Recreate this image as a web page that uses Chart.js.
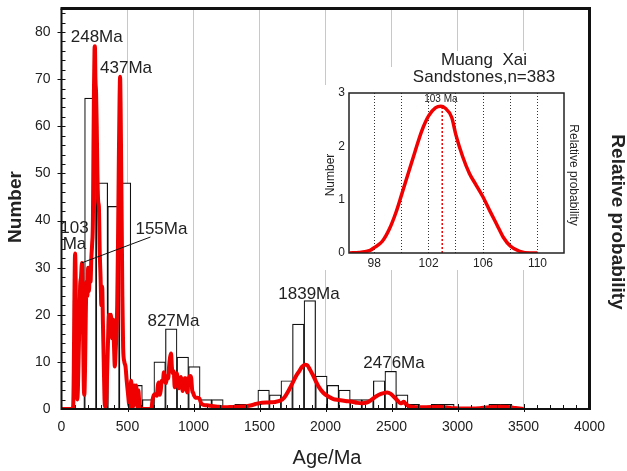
<!DOCTYPE html>
<html>
<head>
<meta charset="utf-8">
<script src="https://cdn.jsdelivr.net/npm/chart.js@4.4.0/dist/chart.umd.min.js"></script>
<style>
  html, body { margin: 0; padding: 0; background: #fff; }
  #quadro { position: relative; width: 627px; height: 471px; }
  #grafico-idades { position: absolute; left: 0; top: 0; }
  #grafico-inset { position: absolute; left: 320px; top: 85px; background: #fff; }
</style>
</head>
<body>
<div id="quadro">
  <canvas id="grafico-idades" width="627" height="471"></canvas>
  <canvas id="grafico-inset" width="265" height="185"></canvas>
</div>
<script>
// histograma: inicio de cada classe (Ma) e numero de graos
const larguraClasse = 87.5;
const inicioClasse = [87.5, 175, 262.5, 350, 437.5, 525, 612.5, 700, 787.5, 875, 962.5,
  1050, 1137.5, 1225, 1312.5, 1400, 1487.5, 1575, 1662.5, 1750, 1837.5, 1925, 2012.5,
  2100, 2187.5, 2275, 2362.5, 2450, 2537.5, 2625, 2712.5, 2800, 2887.5, 2975, 3062.5,
  3150, 3237.5, 3325];
const contagem = [23, 66, 48, 43, 48, 5, 2, 10, 17, 11, 9,
  2, 2, 0, 1, 0, 4, 3, 6, 18, 23, 7, 5,
  4, 2, 2, 6, 8, 3, 1, 0, 1, 1, 0, 0,
  0, 1, 1];

// curva de probabilidade relativa
const idadeCurva = [0, 84, 89, 93, 98, 103, 107, 111, 115, 119, 124, 129, 135, 141, 148, 155, 160, 164, 168,
  173, 178, 184, 190, 196, 202, 208, 214, 220, 226, 232, 238, 242, 246, 250, 253, 257, 262, 267, 272, 278, 283,
  290, 296, 302, 308, 314, 320, 326, 332, 338, 344, 352, 360, 368, 375, 382, 390, 397, 404, 410, 416, 422, 428,
  434, 440, 444, 448, 452, 456, 461, 467, 476, 485, 494, 503, 512, 520, 528, 536, 543, 551, 559, 566, 574, 582,
  590, 600, 615, 680, 690, 700, 712, 722, 730, 737, 745, 752, 760, 768, 776, 784, 792, 800, 808, 815, 823, 830,
  836, 843, 850, 858, 866, 875, 882, 889, 896, 904, 911, 918, 926, 933, 940, 946, 952, 960, 968, 975, 983, 990,
  998, 1005, 1015, 1030, 1045, 1058, 1075, 1100, 1130, 1180, 1240, 1300, 1343, 1400, 1440, 1470, 1520, 1571,
  1620, 1659, 1690, 1722, 1750, 1773, 1800, 1823, 1845, 1861, 1880, 1899, 1925, 1949, 1985, 2025, 2060, 2101,
  2150, 2202, 2240, 2278, 2316, 2350, 2379, 2420, 2467, 2495, 2518, 2545, 2568, 2580, 2593, 2610, 2631, 2680,
  2732, 2800, 2858, 2920, 2985, 3050, 3111, 3180, 3260, 3320, 3380, 3440, 3500];
const probCurva = [0, 0, 1, 8, 24, 33, 28, 14, 5, 2, 4, 10, 18, 26, 28, 31, 26, 16, 6,
  3, 8, 20, 27, 24, 30, 25, 29, 27, 32, 35, 40, 55, 68, 76, 77, 70, 67, 60, 50, 44, 43,
  33, 28, 22, 26, 18, 10, 2, 0.5, 1, 6, 14, 20, 19, 20, 15, 19, 14, 9, 12, 16, 22, 35,
  52, 66, 70.5, 64, 52, 40, 24, 13, 10, 9, 6, 3.5, 1, 0.5, 6, 2, 0.5, 5, 1, 5, 0.5, 4,
  1, 0.3, 0, 0, 2, 3, 3.2, 2.8, 5, 5.6, 3, 4, 6, 5.8, 7.8, 6, 5.5, 7, 6.5, 9, 11, 11.8,
  9, 7.6, 8, 4.6, 5.5, 7.6, 6, 4.4, 5, 6.8, 6, 3.8, 5, 6.5, 6.5, 4.5, 3.5, 5.5, 6.8, 7, 6.5, 4,
  3.4, 2.8, 2.4, 2.4, 2.2, 1.2, 0.9, 0.8, 0.7, 0.5, 0.35, 0.45, 0.5, 0.6, 0.8, 1.06, 1.35, 1.4,
  1.5, 1.8, 2.5, 4, 5.5, 6.8, 8, 9, 9.4, 9.3, 8.5, 7.5, 6, 4.7, 3.4, 2.6, 2.1, 1.9,
  1.7, 1.55, 1.3, 1.2, 1.4, 2, 2.6, 3.2, 3.5, 3.2, 2.6, 1.8, 1.2, 1.3, 1.55, 1, 0.63, 0.4,
  0.35, 0.4, 0.5, 0.3, 0.14, 0.1, 0.1, 0.2, 0.4, 0.5, 0.4, 0.2, 0];

// rotulos dos picos (posicao em Ma / numero)
const rotulos = ['248Ma', '437Ma', '155Ma', '827Ma', '1839Ma', '2476Ma'];
const rotuloIdade = [267, 489, 757, 848, 1875, 2519];
const rotuloValor = [78.8, 72.2, 38.1, 18.7, 24.3, 9.6];
const rotulo103 = ['103', 'Ma'];
const rotulo103Idade = 98;
const rotulo103Valor = [38.4, 35.0];
const linha155 = [[152, 31.0], [674, 36.5]];

// inset: curva do pico de 103 Ma
const insetIdade = [96.2, 96.9, 97.7, 98.0, 98.6, 99.1, 99.6, 100.0, 100.5, 101.0, 101.5, 102.0,
  102.5, 102.9, 103.2, 103.7, 104.0, 104.5, 105.0, 105.5, 106.0, 106.5, 107.0, 107.5, 108.0,
  108.7, 109.5, 110.0];
const insetValor = [0, 0.01, 0.05, 0.1, 0.22, 0.44, 0.76, 1.08, 1.49, 1.9, 2.29, 2.57,
  2.72, 2.75, 2.72, 2.54, 2.22, 1.81, 1.49, 1.27, 1.05, 0.79, 0.54, 0.29, 0.13,
  0.03, 0, 0];
const insetGrade = [98, 100, 102, 104, 106, 108, 110];
const insetRotulosX = [98, 102, 106, 110];
const picoInset = 103;
const alturaPicoInset = 2.74;

const vermelho = '#f00000';
const preto = '#111';
const fonte = "'Liberation Sans', Arial, sans-serif";

const barras = inicioClasse.map((ini, i) => ({ x: ini + larguraClasse / 2, y: contagem[i] }));
const curva = idadeCurva.map((idade, i) => ({ x: idade, y: probCurva[i] }));

const moldura = {
  id: 'moldura',
  afterDraw(chart) {
    const { ctx, chartArea: a, scales } = chart;
    const x = scales.x, y = scales.y;
    ctx.save();

    // marcas dos eixos
    ctx.strokeStyle = preto;
    ctx.lineWidth = 1;
    ctx.beginPath();
    for (let v = 100; v < 4000; v += 100) {
      const px = Math.round(x.getPixelForValue(v)) + 0.5;
      if (v % 500 === 0) { ctx.moveTo(px, a.bottom + 3); ctx.lineTo(px, a.bottom - 5); }
      else { ctx.moveTo(px, a.bottom); ctx.lineTo(px, a.bottom - 4); }
    }
    for (let v = 2; v <= 84; v += 2) {
      const py = Math.round(y.getPixelForValue(v)) + 0.5;
      if (v % 10 === 0) { ctx.moveTo(a.left - 4, py); ctx.lineTo(a.left + 4, py); }
      else { ctx.moveTo(a.left, py); ctx.lineTo(a.left + 4, py); }
    }
    ctx.stroke();

    ctx.lineWidth = 2;
    ctx.beginPath();
    ctx.moveTo(a.left, a.top);
    ctx.lineTo(a.left, a.bottom);
    ctx.lineTo(a.right, a.bottom);
    ctx.stroke();
    ctx.lineWidth = 3;
    ctx.beginPath();
    ctx.moveTo(a.left - 1, a.top);
    ctx.lineTo(a.right, a.top);
    ctx.lineTo(a.right, a.bottom + 1);
    ctx.stroke();

    // linha de chamada do 155Ma
    ctx.lineWidth = 1;
    ctx.beginPath();
    ctx.moveTo(x.getPixelForValue(linha155[0][0]), y.getPixelForValue(linha155[0][1]));
    ctx.lineTo(x.getPixelForValue(linha155[1][0]), y.getPixelForValue(linha155[1][1]));
    ctx.stroke();

    // rotulos dos picos
    ctx.fillStyle = '#222';
    ctx.font = `17px ${fonte}`;
    ctx.textAlign = 'center';
    ctx.textBaseline = 'middle';
    rotulos.forEach((txt, i) => {
      ctx.fillText(txt, x.getPixelForValue(rotuloIdade[i]), y.getPixelForValue(rotuloValor[i]));
    });
    rotulo103.forEach((txt, i) => {
      ctx.fillText(txt, x.getPixelForValue(rotulo103Idade), y.getPixelForValue(rotulo103Valor[i]));
    });

    // titulos dos eixos
    ctx.font = `20px ${fonte}`;
    ctx.fillText('Age/Ma', 327, 458);
    ctx.font = `bold 19px ${fonte}`;
    ctx.save();
    ctx.translate(16, 207);
    ctx.rotate(-Math.PI / 2);
    ctx.fillText('Number', 0, 0);
    ctx.restore();
    ctx.save();
    ctx.translate(617, 222);
    ctx.rotate(Math.PI / 2);
    ctx.fillText('Relative probability', 0, 0);
    ctx.restore();

    // titulo do inset
    ctx.fillStyle = '#fff';
    ctx.fillRect(386, 67, 199, 20);
    ctx.font = `17px ${fonte}`;
    const w1 = ctx.measureText('Muang  Xai').width;
    ctx.fillRect(484 - w1 / 2 - 2, 51, w1 + 4, 17);
    ctx.fillStyle = '#222';
    ctx.fillText('Muang  Xai', 484, 60);
    ctx.fillText('Sandstones,n=383', 484, 77);
    ctx.restore();
  }
};

new Chart(document.getElementById('grafico-idades'), {
  type: 'bar',
  data: {
    datasets: [
      {
        type: 'line',
        label: 'Probabilidade',
        data: curva,
        borderColor: vermelho,
        borderWidth: 4,
        pointRadius: 0,
        cubicInterpolationMode: 'monotone',
        order: 1
      },
      {
        type: 'bar',
        label: 'Numero',
        data: barras,
        backgroundColor: '#fff',
        borderColor: preto,
        borderWidth: 1.2,
        barPercentage: 1,
        categoryPercentage: 1,
        order: 2
      }
    ]
  },
  options: {
    responsive: false,
    animation: false,
    devicePixelRatio: 1,
    layout: { padding: { top: 8.5, right: 37.5, left: 0, bottom: 0 } },
    plugins: { legend: { display: false }, tooltip: { enabled: false } },
    scales: {
      x: {
        type: 'linear',
        min: 0,
        max: 4000,
        offset: false,
        ticks: { stepSize: 500, padding: 10, color: '#222', font: { family: fonte, size: 14 }, callback: v => String(v) },
        grid: {
          offset: false,
          drawTicks: false,
          lineWidth: 1,
          color: c => (c.tick && c.tick.value > 0 && c.tick.value < 4000) ? '#c8c8c8' : 'rgba(0,0,0,0)'
        },
        border: { display: false },
        afterFit: s => { s.height = 62; s.paddingLeft = 0; s.paddingRight = 0; }
      },
      y: {
        min: 0,
        max: 85,
        ticks: { stepSize: 10, padding: 11, color: '#222', font: { family: fonte, size: 14 }, callback: v => (v % 10 === 0 ? v : '') },
        grid: { display: false, drawTicks: false },
        border: { display: false },
        afterFit: s => { s.width = 61.5; s.paddingTop = 0; s.paddingBottom = 0; }
      }
    }
  },
  plugins: [moldura]
});

const molduraInset = {
  id: 'molduraInset',
  afterDraw(chart) {
    const { ctx, chartArea: a, scales } = chart;
    ctx.save();
    ctx.strokeStyle = '#222';
    ctx.lineWidth = 1.5;
    ctx.strokeRect(a.left, a.top, a.right - a.left, a.bottom - a.top);
    ctx.fillStyle = '#222';
    ctx.textAlign = 'center';
    ctx.textBaseline = 'middle';
    ctx.font = `10px ${fonte}`;
    ctx.fillText('103 Ma', scales.x.getPixelForValue(102.9), scales.y.getPixelForValue(2.88));
    ctx.font = `12px ${fonte}`;
    ctx.save();
    ctx.translate(11, 90);
    ctx.rotate(-Math.PI / 2);
    ctx.fillText('Number', 0, 0);
    ctx.restore();
    ctx.save();
    ctx.translate(253, 90);
    ctx.rotate(Math.PI / 2);
    ctx.fillText('Relative probability', 0, 0);
    ctx.restore();
    ctx.restore();
  }
};

new Chart(document.getElementById('grafico-inset'), {
  type: 'line',
  data: {
    datasets: [
      {
        label: 'Inset',
        data: insetIdade.map((v, i) => ({ x: v, y: insetValor[i] })),
        borderColor: vermelho,
        borderWidth: 3.5,
        pointRadius: 0,
        cubicInterpolationMode: 'monotone'
      },
      {
        label: 'Pico',
        data: [{ x: picoInset, y: 0 }, { x: picoInset, y: alturaPicoInset }],
        borderColor: vermelho,
        borderWidth: 1.5,
        borderDash: [2, 2],
        pointRadius: 0
      }
    ]
  },
  options: {
    responsive: false,
    animation: false,
    devicePixelRatio: 1,
    layout: { padding: { top: 8, right: 21, left: 0, bottom: 0 } },
    plugins: { legend: { display: false }, tooltip: { enabled: false } },
    scales: {
      x: {
        type: 'linear',
        min: 96.15,
        max: 111.95,
        afterBuildTicks: s => { s.ticks = insetGrade.map(v => ({ value: v })); },
        ticks: {
          padding: 3,
          color: '#222',
          font: { family: fonte, size: 12 },
          callback: v => (insetRotulosX.includes(v) ? String(v) : '')
        },
        grid: { drawTicks: false, color: '#333', lineWidth: 1 },
        border: { display: false, dash: [1, 2] },
        afterFit: s => { s.height = 17; s.paddingLeft = 0; s.paddingRight = 0; }
      },
      y: {
        min: 0,
        max: 3,
        ticks: { stepSize: 1, padding: 4, color: '#222', font: { family: fonte, size: 12 } },
        grid: { display: false, drawTicks: false },
        border: { display: false },
        afterFit: s => { s.width = 29; s.paddingTop = 0; s.paddingBottom = 0; }
      }
    }
  },
  plugins: [molduraInset]
});
</script>
</body>
</html>
